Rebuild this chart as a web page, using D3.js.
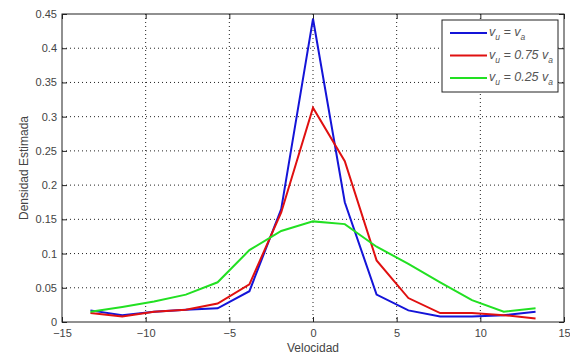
<!DOCTYPE html>
<html>
<head>
<meta charset="utf-8">
<script src="https://cdn.jsdelivr.net/npm/d3@7"></script>
<style>
body { margin: 0; background: #fff; }
text { font-family: "Liberation Sans", Arial, sans-serif; }
</style>
</head>
<body>
<svg id="chart" width="570" height="358"></svg>
<script>
// velocity bins
let velocidad = [-13.3, -11.4, -9.5, -7.6, -5.7, -3.8, -1.9, 0, 1.9, 3.8, 5.7, 7.6, 9.5, 11.4, 13.3]
let dens_100 = [0.017, 0.010, 0.015, 0.018, 0.020, 0.045, 0.165, 0.443, 0.175, 0.040, 0.017, 0.008, 0.008, 0.010, 0.015]
let dens_075 = [0.013, 0.008, 0.015, 0.018, 0.027, 0.055, 0.160, 0.313, 0.235, 0.090, 0.035, 0.013, 0.013, 0.010, 0.005]
let dens_025 = [0.015, 0.022, 0.030, 0.040, 0.058, 0.105, 0.133, 0.147, 0.143, 0.110, 0.085, 0.058, 0.032, 0.015, 0.020]
let xTicks = [-15, -10, -5, 0, 5, 10, 15]
let yTicks = [0, 0.05, 0.1, 0.15, 0.2, 0.25, 0.3, 0.35, 0.4, 0.45]

let series = [
    {name: "1", vals: dens_100, color: "#1414d8", coef: ""},
    {name: "075", vals: dens_075, color: "#e01010", coef: "0.75 "},
    {name: "025", vals: dens_025, color: "#22e022", coef: "0.25 "}
]

let svg = d3.select("#chart")
let mLeft = 62, mRight = 564, mTop = 14, mBottom = 322

let x = d3.scaleLinear().domain([-15, 15]).range([mLeft, mRight])
let y = d3.scaleLinear().domain([0, 0.45]).range([mBottom, mTop])

// grid
let grid = svg.append("g")
grid.selectAll(".gx")
    .data(xTicks.slice(1, -1))
    .join("line")
    .attr("x1", d => x(d)).attr("x2", d => x(d))
    .attr("y1", mTop).attr("y2", mBottom)
    .style("stroke", "#222").style("stroke-dasharray", "1,3")
grid.selectAll(".gy")
    .data(yTicks.slice(1, -1))
    .join("line")
    .attr("x1", mLeft).attr("x2", mRight)
    .attr("y1", d => y(d)).attr("y2", d => y(d))
    .style("stroke", "#222").style("stroke-dasharray", "1,3")

// box
svg.append("rect")
    .attr("x", mLeft).attr("y", mTop)
    .attr("width", mRight - mLeft).attr("height", mBottom - mTop)
    .style("fill", "none").style("stroke", "#222").style("stroke-width", 1)

// axes (ticks inward)
svg.append("g").attr("transform", "translate(0," + mBottom + ")")
    .call(d3.axisBottom(x).tickValues(xTicks).tickSize(-5).tickPadding(7).tickFormat(d3.format("d")))
svg.append("g").attr("transform", "translate(0," + mTop + ")")
    .call(d3.axisTop(x).tickValues(xTicks).tickSize(-5).tickFormat(""))
svg.append("g").attr("transform", "translate(" + mLeft + ",0)")
    .call(d3.axisLeft(y).tickValues(yTicks).tickSize(-5).tickPadding(5).tickFormat(d => d === 0 ? "0" : String(+d.toFixed(2))))
svg.append("g").attr("transform", "translate(" + mRight + ",0)")
    .call(d3.axisRight(y).tickValues(yTicks).tickSize(-5).tickFormat(""))

svg.selectAll(".domain").remove()
svg.selectAll(".tick line").style("stroke", "#222")
svg.selectAll(".tick text").style("font-size", "11px").style("fill", "#444")

// lines
let line = d3.line()
    .x((d, i) => x(velocidad[i]))
    .y(d => y(d))

svg.append("g")
    .selectAll(".serie")
    .data(series)
    .join("path")
    .attr("d", d => line(d.vals))
    .style("fill", "none")
    .style("stroke", d => d.color)
    .style("stroke-width", 2)

// labels
svg.append("text")
    .attr("x", x(0)).attr("y", 352)
    .attr("text-anchor", "middle")
    .style("font-size", "12px").style("fill", "#444")
    .text("Velocidad")
svg.append("text")
    .attr("transform", "translate(28," + ((mTop + mBottom) / 2) + ") rotate(-90)")
    .attr("text-anchor", "middle")
    .style("font-size", "12px").style("fill", "#444")
    .text("Densidad Estimada")

// legend
let legend = svg.append("g")
legend.append("rect")
    .attr("x", 442).attr("y", 20).attr("width", 116).attr("height", 72)
    .style("fill", "#fff").style("stroke", "#222")

let entry = legend.selectAll(".legend_entry")
    .data(series)
    .join("g")
    .attr("transform", (d, i) => "translate(0," + (33 + i * 22.5) + ")")
entry.append("line")
    .attr("x1", 450).attr("x2", 487)
    .style("stroke", d => d.color).style("stroke-width", 2)
let lt = entry.append("text")
    .attr("x", 489).attr("y", 3)
    .style("font-size", "12.5px").style("fill", "#555").style("font-style", "italic")
lt.append("tspan").text("v")
lt.append("tspan").attr("dy", 4).style("font-size", "8.5px").text("u")
lt.append("tspan").attr("dy", -4).text(d => " = " + d.coef + "v")
lt.append("tspan").attr("dy", 4).style("font-size", "8.5px").text("a")
</script>
</body>
</html>
